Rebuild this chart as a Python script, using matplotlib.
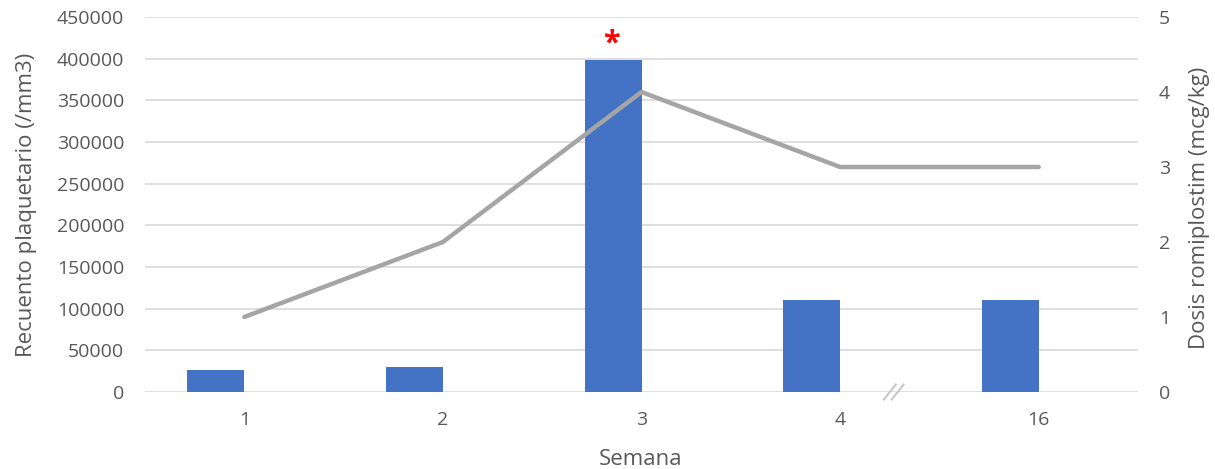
import numpy as np
import matplotlib.pyplot as plt

plt.rcParams['font.family'] = ['Open Sans', 'DejaVu Sans']

# datos
semanas = ['1', '2', '3', '4', '16']
plaquetas = [27000, 30000, 399000, 110000, 110000]
dosis = [1, 2, 4, 3, 3]

gris = '#595959'
x = np.arange(len(semanas))

W, H = 1215, 469
fig = plt.figure(figsize=(W / 100, H / 100), dpi=100)
ax = fig.add_axes([145/W, 1 - 392/H, (1138-145)/W, 375/H])
ax2 = ax.twinx()

# barras a la izquierda de cada categoria
ax.bar(x, plaquetas, width=-0.287, align='edge', color='#4472c4', zorder=3)
ax2.plot(x, dosis, color='#a5a5a5', lw=3.2, solid_capstyle='round', zorder=4)

ax.set_xlim(-0.5, 4.5)
ax.set_ylim(0, 450000)
ax2.set_ylim(0, 5)
ax.set_yticks(np.arange(0, 450001, 50000))
ax2.set_yticks(range(6))
ax.set_xticks(x)
ax.set_xticklabels(semanas)

ax.yaxis.grid(True, color='#d9d9d9', lw=1.2, zorder=0)
ax.set_axisbelow(True)
for a in (ax, ax2):
    for s in a.spines.values():
        s.set_visible(False)
    a.tick_params(length=0, colors=gris, labelsize=14)
ax.tick_params(axis='y', pad=15)
ax.tick_params(axis='x', pad=14)
ax2.tick_params(axis='y', pad=15)

# titulos de los ejes
fig.text(27/W, 1 - 205/H, 'Recuento plaquetario (/mm3)', color=gris, fontsize=16,
         rotation=90, ha='center', va='center')
fig.text(1199/W, 1 - 208/H, 'Dosis romiplostim (mcg/kg)', color=gris, fontsize=16,
         rotation=90, ha='center', va='center')
fig.text(641/W, 1 - 459/H, 'Semana', color=gris, fontsize=16, ha='center', va='center')

# asterisco sobre la semana 3
ax.text(2 - 0.15, 418000, '*', color='red', fontsize=22, ha='center', va='center', fontweight='bold')

# marca de corte en el eje x
for dx in (-0.02, 0.02):
    ax.plot([3.27 + dx - 0.03, 3.27 + dx + 0.03], [-9000, 9000], color='#c8c8c8',
            lw=1.5, clip_on=False, zorder=5)

fig.savefig('out.png', dpi=100)
